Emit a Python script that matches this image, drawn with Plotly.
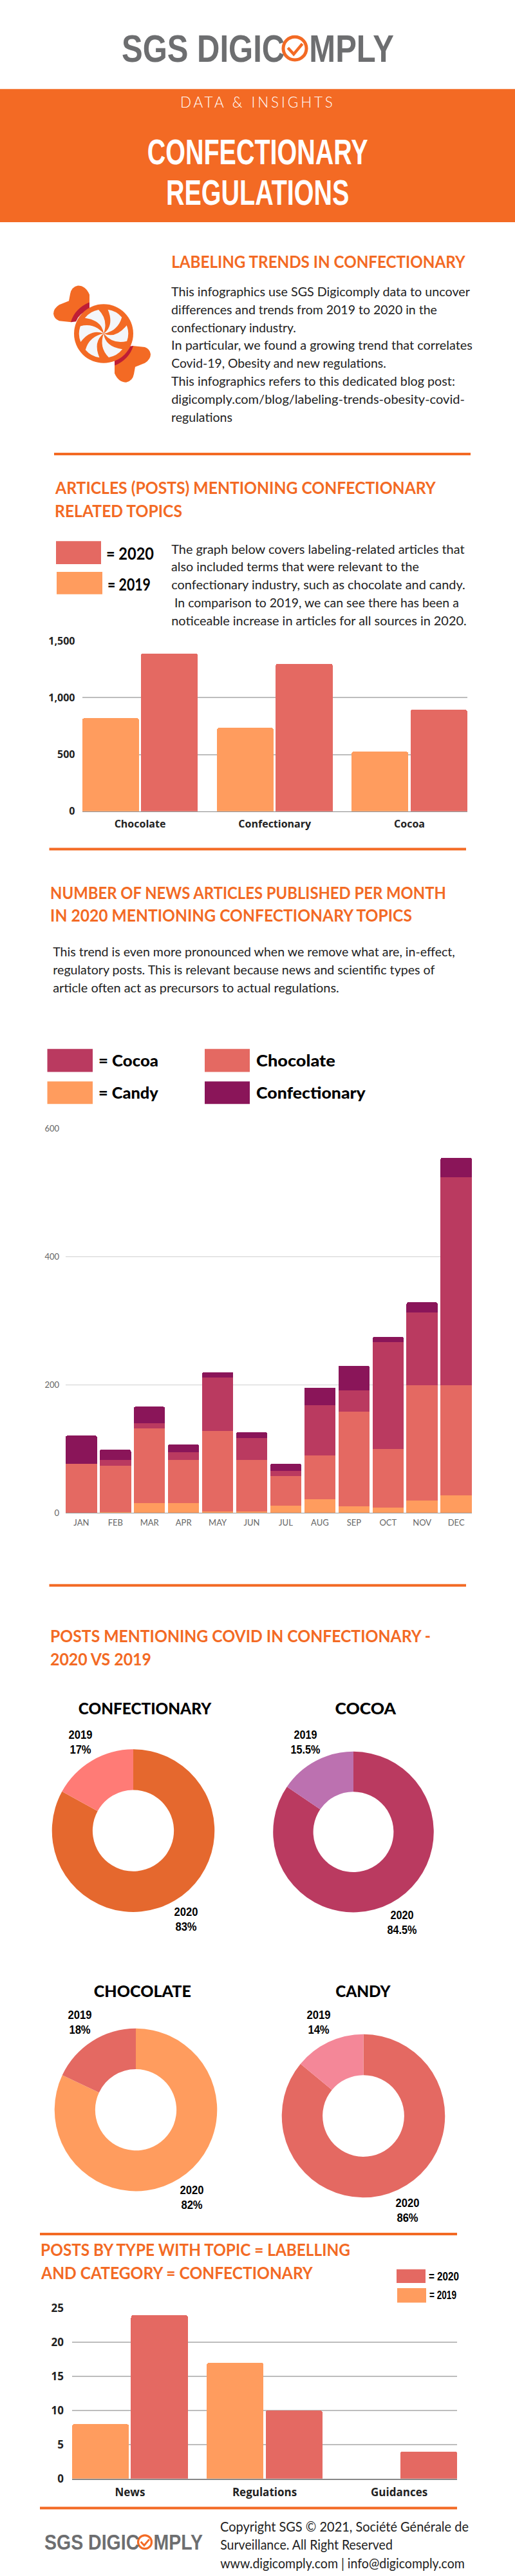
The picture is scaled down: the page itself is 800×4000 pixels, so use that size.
import json, math
import plotly.graph_objects as go

W, H = 800, 4000
ORANGE = "#F36A24"
C2020, C2019 = "#E46962", "#FF9C5E"
COCOA, CONF = "#BA3A60", "#8A1559"
CONDENSED = "Liberation Sans"
BODY = "Lato"
TICK = "Open Sans"

# ---------- data ----------
cats1 = ["Chocolate", "Confectionary", "Cocoa"]
posts2019 = [820, 735, 525]
posts2020 = [1390, 1300, 895]

months = ["JAN", "FEB", "MAR", "APR", "MAY", "JUN", "JUL", "AUG", "SEP", "OCT", "NOV", "DEC"]
candy = [0, 1, 16, 16, 3, 3, 12, 22, 11, 9, 20, 28]
chocolate = [77, 73, 116, 67, 125, 80, 46, 68, 147, 91, 180, 172]
cocoa = [0, 9, 8, 12, 84, 34, 8, 78, 34, 167, 113, 325]
confectionary = [44, 16, 26, 12, 8, 9, 11, 28, 38, 8, 16, 30]

pie_years = ["2020", "2019"]
pie_titles = ["CONFECTIONARY", "COCOA", "CHOCOLATE", "CANDY"]
pie_2020 = [83, 84.5, 82, 86]
pie_2019 = [17, 15.5, 18, 14]

cats3 = ["News", "Regulations", "Guidances"]
type2019 = [8, 17, 0]
type2020 = [24, 10, 4]

intro_lines = [
    "This infographics use SGS Digicomply data to uncover",
    "differences and trends from 2019 to 2020 in the",
    "confectionary industry.",
    "In particular, we found a growing trend that correlates",
    "Covid-19, Obesity and new regulations.",
    "This infographics refers to this dedicated blog post:",
    "digicomply.com/blog/labeling-trends-obesity-covid-",
    "regulations",
]
graph_lines = [
    "The graph below covers labeling-related articles that",
    "also included terms that were relevant to the",
    "confectionary industry, such as chocolate and candy.",
    " In comparison to 2019, we can see there has been a",
    "noticeable increase in articles for all sources in 2020.",
]
trend_lines = [
    "This trend is even more pronounced when we remove what are, in-effect,",
    "regulatory posts. This is relevant because news and scientific types of",
    "article often act as precursors to actual regulations.",
]
footer_lines = [
    "Copyright SGS © 2021, Société Générale de",
    "Surveillance. All Right Reserved",
    "www.digicomply.com | info@digicomply.com",
]

# ---------- helpers ----------
px = lambda x: x / W
py = lambda y: 1 - y / H
anns, shapes, fits = [], [], []


def text(s, x, y, size, color="#000", family=BODY, weight=None, anchor="left", width=None, spacing=None, line=None):
    f = dict(size=size, color=color, family=family)
    if weight:
        f["weight"] = weight
    anns.append(dict(text=s, x=px(x), y=py(y), xref="paper", yref="paper", showarrow=False,
                     xanchor=anchor, yanchor="middle", font=f, borderpad=0, align="center"))
    if width or spacing or line:
        fits.append(dict(i=len(anns) - 1, w=width, o=anchor, s=spacing, l=line))


def rect(x0, y0, x1, y1, color):
    shapes.append(dict(type="rect", xref="paper", yref="paper", x0=px(x0), x1=px(x1), y0=py(y0), y1=py(y1),
                       fillcolor=color, line_width=0, layer="below"))


def path(pts, fill=None, line=None, lw=0):
    shapes.append(dict(type="path", xref="paper", yref="paper", path=pts, fillcolor=fill or "rgba(0,0,0,0)",
                       line=dict(color=line or "rgba(0,0,0,0)", width=lw), layer="above"))


def P(x, y):
    return f"{px(x):.6f},{py(y):.6f}"


def circle(cx, cy, r, fill=None, line=None, lw=0):
    shapes.append(dict(type="circle", xref="paper", yref="paper", x0=px(cx - r), x1=px(cx + r), y0=py(cy - r),
                       y1=py(cy + r), fillcolor=fill or "rgba(0,0,0,0)",
                       line=dict(color=line or "rgba(0,0,0,0)", width=lw), layer="above"))


def logo(x_left, width, cy, size, ox, oy, r, lw):
    text('SGS DIGIC<span style="color:rgba(255,255,255,0)">O</span>MPLY', x_left, cy, size,
         "#6D6E70", CONDENSED, "bold", width=width)
    circle(ox, oy, r, line=ORANGE, lw=lw)
    k = r / 20
    path(f"M{P(ox - 12 * k, oy - 1 * k)} L{P(ox - 2 * k, oy + 10 * k)} L{P(ox + 13 * k, oy - 8 * k)}", line=ORANGE, lw=lw * 0.9)


def heading(lines, x, baselines, widths):
    for s, b, w in zip(lines, baselines, widths):
        text(s, x, b - 9.5, 26, ORANGE, BODY, "bold", width=w)


def body(lines, x, first, widths):
    for i, (s, w) in enumerate(zip(lines, widths)):
        text(s, x, first + 28 * i - 7, 19, "#222222", BODY, 400, width=w)


# ---------- header ----------
rect(0, 127, 800, 335, ORANGE)
logo(188, 423, 63.5, 60, 458, 63.5, 18, 5)
text("DATA & INSIGHTS", 400, 146.5, 23, "#FFFFFF", BODY, 300, "center", width=241, spacing=4)
text("CONFECTIONARY<br>REGULATIONS", 400, 261.4, 56, "#FFFFFF", CONDENSED, "bold", "center", width=343, line=63)

# ---------- intro ----------
heading(["LABELING TRENDS IN CONFECTIONARY"], 265, [406], [458])
body(intro_lines, 265, 450, [464, 413, 194, 468, 334, 441, 456, 95])
rect(84, 695, 731, 699, ORANGE)

# candy icon (decoration)
ox, oy = 317, 1019
def ref(a):
    return (ox - a[0], oy - a[1])
lobe = [(139, 460), (139, 448), (133, 434), (121, 434), (111, 436), (109, 447), (107, 458), (92, 464), (83, 470), (83, 478),
        (84, 486), (92, 489), (111, 491)]
band = [(139, 460), (139, 471), (122, 478), (118, 490), (110, 491), (116, 470), (139, 460)]
def lobe_path(p):
    return (f"M{P(*p[0])} L{P(*p[1])} Q{P(*p[2])} {P(*p[3])} Q{P(*p[4])} {P(*p[5])} L{P(*p[6])} L{P(*p[7])} "
            f"Q{P(*p[8])} {P(*p[9])} Q{P(*p[10])} {P(*p[11])} L{P(*p[12])} Z")
def band_path(p):
    return f"M{P(*p[0])} L{P(*p[1])} Q{P(*p[2])} {P(*p[3])} L{P(*p[4])} Q{P(*p[5])} {P(*p[6])} Z"
path(lobe_path(lobe), fill=ORANGE)
path(lobe_path([ref(a) for a in lobe]), fill=ORANGE)
path(band_path(band), fill="#BE1E36")
path(band_path([ref(a) for a in band]), fill="#BE1E36")
circle(161, 509, 46, fill=ORANGE)
for k in range(6):
    a0 = math.radians(k * 60 - 80)
    a1 = a0 + math.radians(38)
    rr = 38
    c0 = (161 + rr * .55 * math.cos(a0 + .75), 509 + rr * .55 * math.sin(a0 + .75))
    p0 = (161 + rr * math.cos(a0), 509 + rr * math.sin(a0))
    p1 = (161 + rr * math.cos(a1), 509 + rr * math.sin(a1))
    pm = (161 + rr * 1.07 * math.cos((a0 + a1) / 2), 509 + rr * 1.07 * math.sin((a0 + a1) / 2))
    c1 = (161 + rr * .6 * math.cos(a1 + .55), 509 + rr * .6 * math.sin(a1 + .55))
    path(f"M{P(161, 509)} Q{P(*c1)} {P(*p1)} Q{P(*pm)} {P(*p0)} Q{P(*c0)} {P(161, 509)} Z", fill="#F3F6FA")

# ---------- section 1 ----------
heading(["ARTICLES (POSTS) MENTIONING CONFECTIONARY", "RELATED TOPICS"], 84, [759, 795], [593, 198])
rect(87, 833, 157, 869, C2020)
rect(88, 881, 159, 916, C2019)
text("= 2020", 164, 852, 26, "#000", BODY, "bold", width=74)
text("= 2019", 166, 900, 26, "#000", BODY, "bold", width=67)
body(graph_lines, 265, 852, [456, 385, 457, 447, 459])
rect(76.5, 1312, 724, 1316, ORANGE)

# ---------- section 2 ----------
heading(["NUMBER OF NEWS ARTICLES PUBLISHED PER MONTH", "IN 2020 MENTIONING CONFECTIONARY TOPICS"], 76.5, [1391, 1427], [615, 562])
body(trend_lines, 80.5, 1481, [625, 594, 445])
rect(73.5, 1626, 144, 1662, COCOA)
rect(318, 1626, 388, 1662, C2020)
rect(73.5, 1677, 144, 1712, C2019)
rect(318, 1677, 388, 1712, CONF)
text("= Cocoa", 152, 1644, 24, "#000", BODY, 900, width=93)
text("Chocolate", 397, 1644, 24, "#000", BODY, 900, width=123)
text("= Candy", 152, 1694, 24, "#000", BODY, 900, width=93)
text("Confectionary", 397, 1694, 24, "#000", BODY, 900, width=170)
rect(76.5, 2462, 724, 2466, ORANGE)

# ---------- section 3 (pies) ----------
heading(["POSTS MENTIONING COVID IN CONFECTIONARY -", "2020 VS 2019"], 76.5, [2552, 2588], [591, 157])
pie_geo = [(207, 2847, 127), (549, 2849, 125.5), (211, 3283, 127), (564.5, 3292.5, 127.5)]
pie_colors = [("#E5682E", "#FF7B76"), (COCOA, "#BC71B0"), (C2019, C2020), (C2020, "#F48798")]
title_pos = [(224.5, 2655, 207), (568, 2655, 95), (221, 3097, 151), (564, 3097, 86)]
lab19 = [(124.5, 2709), (474.5, 2709), (124, 3147), (495, 3147)]
lab20 = [(289, 2986), (624, 2991), (298, 3420.5), (633, 3440)]
for t, (tx, ty, tw), a, b, (lx, ly), (mx, my) in zip(pie_titles, title_pos, pie_2020, pie_2019, lab19, lab20):
    text(t, tx, ty, 25, "#000", BODY, 900, "center", width=tw)
    text(f"2019<br>{b}%", lx, ly, 18, "#000", CONDENSED, "bold", "center", width=46 if b % 1 else 37)
    text(f"2020<br>{a}%", mx, my, 18, "#000", CONDENSED, "bold", "center", width=46 if a % 1 else 37)
rect(62, 3475, 710, 3479, ORANGE)

# ---------- section 4 ----------
heading(["POSTS BY TYPE WITH TOPIC = LABELLING", "AND CATEGORY = CONFECTIONARY"], 62, [3511, 3547], [481, 424])
rect(616, 3532, 661, 3553.5, C2020)
rect(617, 3561.5, 662, 3584, C2019)
text("= 2020", 665, 3543, 18, "#000", CONDENSED, "bold", width=47)
text("= 2019", 666, 3573, 18, "#000", CONDENSED, "bold", width=42)
rect(62, 3903, 710, 3907, ORANGE)

# ---------- footer ----------
logo(68, 246, 3958, 33, 225, 3958, 10.5, 3.2)
for s, y, w in zip(footer_lines, [3933, 3961, 3990], [386, 268, 380]):
    text(s, 341, y, 21, "#222222", BODY, 400, width=w)

# ---------- figure ----------
fig = go.Figure()
BAR = dict(cornerradius=4, line_width=0)
for name, vals, col in [("2019", posts2019, C2019), ("2020", posts2020, C2020)]:
    fig.add_bar(x=cats1, y=vals, name=name, marker=dict(color=col, **BAR), xaxis="x", yaxis="y", offsetgroup=name)
for name, vals, col in [("Candy", candy, C2019), ("Chocolate", chocolate, C2020), ("Cocoa", cocoa, COCOA),
                        ("Confectionary", confectionary, CONF)]:
    fig.add_bar(x=months, y=vals, name=name, marker=dict(color=col, cornerradius=3, line_width=0), xaxis="x2", yaxis="y2",
                width=0.917)
for name, vals, col in [("2019", type2019, C2019), ("2020", type2020, C2020)]:
    fig.add_bar(x=cats3, y=vals, name=name, marker=dict(color=col, **BAR), xaxis="x3", yaxis="y3", offsetgroup=name)

for a, b, (cx, cy, r), (c20, c19) in zip(pie_2020, pie_2019, pie_geo, pie_colors):
    fig.add_pie(labels=pie_years, values=[a, b], hole=0.5, sort=False, direction="clockwise", rotation=0,
                textinfo="none", marker=dict(colors=[c20, c19], line=dict(width=0)),
                domain=dict(x=[px(cx - r), px(cx + r)], y=[py(cy + r), py(cy - r)]))

fig.update_traces(selector=dict(type="bar"), hoverinfo="skip")

for tr in fig.data:
    if tr.type == "bar" and tr.xaxis in ("x", "x3"):
        tr.width = 0.4225
        tr.offset = -0.43 if tr.name == "2019" else 0.0075

bold_tick = dict(family=TICK, size=16, color="#222222", weight=700)
bold_tick3 = dict(family=TICK, size=17, color="#222222", weight=700)
thin_tick = dict(family=BODY, size=13, color="#666666")
GRID = dict(gridcolor="#BDBDBD", gridwidth=1.5, zeroline=False, ticks="", layer="below traces")
axes = dict(
    xaxis=dict(domain=[px(127.5), px(726)], anchor="y", range=[-0.43, 2.43], tickfont=bold_tick, showgrid=False,
               showline=True, linecolor="#888888", linewidth=1, ticks="", ticklabelstandoff=5),
    yaxis=dict(domain=[py(1255), py(989)], anchor="x", range=[0, 1500], tickvals=[0, 500, 1000, 1500], tickformat=",",
               tickfont=bold_tick, ticklabelstandoff=10, **GRID),
    xaxis2=dict(domain=[px(102), px(733)], anchor="y2", range=[-0.46, 11.46], tickfont=thin_tick, showgrid=False,
                showline=True, linecolor="#999999", linewidth=1, ticks="", ticklabelstandoff=3, tickangle=0),
    yaxis2=dict(domain=[py(2351), py(1751)], anchor="x2", range=[0, 600], tickvals=[0, 200, 400, 600],
                tickfont=thin_tick, ticklabelstandoff=9, gridcolor="#D0D0D0", gridwidth=1, zeroline=False, ticks=""),
    xaxis3=dict(domain=[px(112), px(710)], anchor="y3", range=[-0.43, 2.43], tickfont=bold_tick3, showgrid=False,
                showline=True, linecolor="#888888", linewidth=1.5, ticks="", ticklabelstandoff=5),
    yaxis3=dict(domain=[py(3859), py(3593)], anchor="x3", range=[0, 25], tickvals=[0, 5, 10, 15, 20, 25],
                tickfont=bold_tick3, ticklabelstandoff=12, **GRID),
)
fig.update_layout(width=W, height=H, margin=dict(l=0, r=0, t=0, b=0), paper_bgcolor="white", plot_bgcolor="white",
                  showlegend=False, barmode="stack", annotations=anns, shapes=shapes, **axes)

post = """
document.body.style.margin = '0';
var FITS = %s;
FITS.forEach(function (f) {
  var g = document.querySelector('.annotation[data-index="' + f.i + '"] .annotation-text');
  if (!g) return;
  if (f.s) g.style.letterSpacing = f.s + 'px';
  if (f.l) {
    var lines = g.querySelectorAll('tspan.line');
    for (var n = 1; n < lines.length; n++) lines[n].setAttribute('dy', f.l + 'px');
  }
  if (f.w) {
    var k = f.w / g.getBBox().width;
    g.style.transformBox = 'fill-box';
    g.style.transformOrigin = f.o + ' center';
    g.style.transform = 'scaleX(' + k + ')';
  }
});
""" % json.dumps(fits)
fig.write_html("out.html", post_script=post, config=dict(displayModeBar=False))
